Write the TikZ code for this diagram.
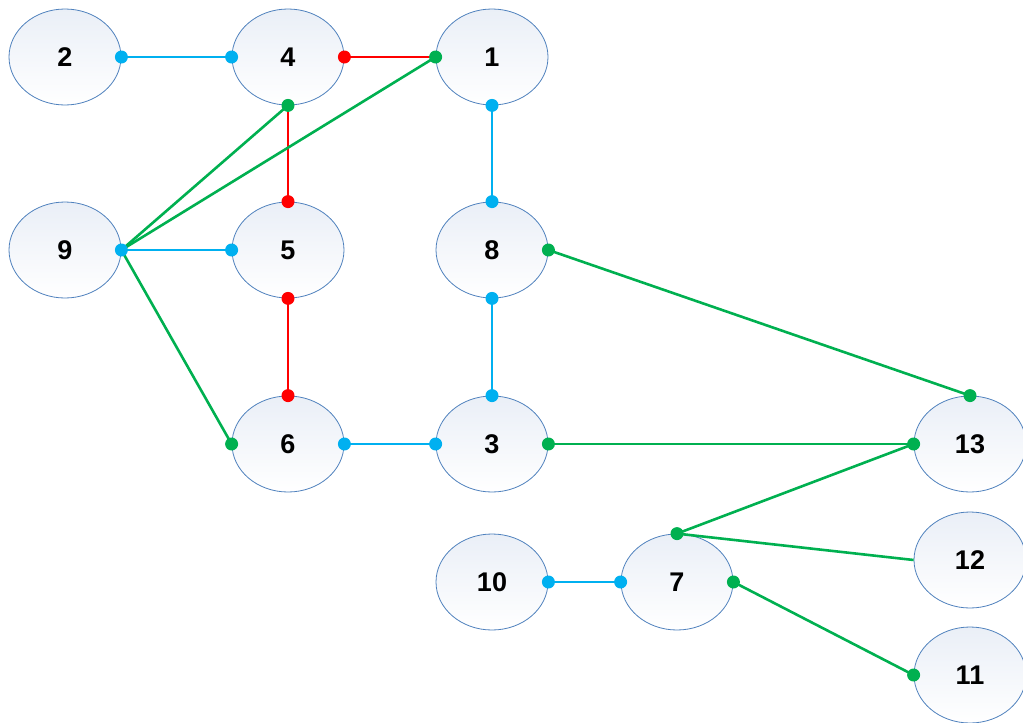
\documentclass[tikz,border=0pt]{standalone}
\usepackage{fontspec}
\setmainfont{Liberation Sans}
\usepackage{xcolor}
\usetikzlibrary{shapes.geometric}

\definecolor{cblue}{RGB}{0,176,240}
\definecolor{cred}{RGB}{255,0,0}
\definecolor{cgreen}{RGB}{0,176,80}
\definecolor{rim}{RGB}{79,129,189}
\definecolor{pale}{RGB}{234,239,247}

\tikzset{
    vertex/.style={ellipse, draw=rim, line width=0.8pt, top color=pale, bottom color=white,
        minimum width=112pt, minimum height=96pt, inner sep=0pt,
        font=\fontsize{27}{27}\selectfont\bfseries},
    link/.style={line width=2.6pt}
}

\begin{document}
\begin{tikzpicture}[x=1pt, y=1pt]
            \useasboundingbox (0,0) rectangle (1023,-723);

            \node[vertex] (n2) at (65, -57) {2};
            \node[vertex] (n4) at (288, -57) {4};
            \node[vertex] (n1) at (492, -57) {1};
            \node[vertex] (n9) at (65, -250) {9};
            \node[vertex] (n5) at (288, -250) {5};
            \node[vertex] (n8) at (492, -250) {8};
            \node[vertex] (n6) at (288, -444) {6};
            \node[vertex] (n3) at (492, -444) {3};
            \node[vertex] (n13) at (970, -444) {13};
            \node[vertex] (n10) at (492, -582) {10};
            \node[vertex] (n7) at (677, -582) {7};
            \node[vertex] (n12) at (970, -560) {12};
            \node[vertex] (n11) at (970, -675) {11};

            % red path 4-1, 4-5, 5-6
            \draw[link, cred] (n4.east) -- (n1.west); % 4-1
            \draw[link, cred] (n4.south) -- (n5.north); % 4-5
            \draw[link, cred] (n5.south) -- (n6.north); % 5-6
            \fill[cred] (n4.east) circle (6.5pt);
            \fill[cred] (n5.north) circle (6.5pt);
            \fill[cred] (n5.south) circle (6.5pt);
            \fill[cred] (n6.north) circle (6.5pt);

            % blue edges
            \draw[link, cblue] (n2.east) -- (n4.west); % 2-4
            \draw[link, cblue] (n1.south) -- (n8.north); % 1-8
            \draw[link, cblue] (n9.east) -- (n5.west); % 9-5
            \draw[link, cblue] (n8.south) -- (n3.north); % 8-3
            \draw[link, cblue] (n6.east) -- (n3.west); % 6-3
            \draw[link, cblue] (n10.east) -- (n7.west); % 10-7
            \fill[cblue] (n2.east) circle (6.5pt);
            \fill[cblue] (n4.west) circle (6.5pt);
            \fill[cblue] (n1.south) circle (6.5pt);
            \fill[cblue] (n8.north) circle (6.5pt);
            \fill[cblue] (n5.west) circle (6.5pt);
            \fill[cblue] (n8.south) circle (6.5pt);
            \fill[cblue] (n3.north) circle (6.5pt);
            \fill[cblue] (n6.east) circle (6.5pt);
            \fill[cblue] (n3.west) circle (6.5pt);
            \fill[cblue] (n10.east) circle (6.5pt);
            \fill[cblue] (n7.west) circle (6.5pt);

            % green edges
            \draw[link, cgreen] (n9.east) -- (n4.south); % 9-4
            \draw[link, cgreen] (n9.east) -- (n1.west); % 9-1
            \draw[link, cgreen] (n9.east) -- (n6.west); % 9-6
            \draw[link, cgreen] (n8.east) -- (n13.north); % 8-13
            \draw[link, cgreen] (n3.east) -- (n13.west); % 3-13
            \draw[link, cgreen] (n13.west) -- (n7.north); % 13-7
            \draw[link, cgreen] (n7.north) -- (n12.west); % 7-12
            \draw[link, cgreen] (n7.east) -- (n11.west); % 7-11
            \fill[cgreen] (n4.south) circle (6.5pt);
            \fill[cgreen] (n1.west) circle (6.5pt);
            \fill[cgreen] (n6.west) circle (6.5pt);
            \fill[cgreen] (n8.east) circle (6.5pt);
            \fill[cgreen] (n13.north) circle (6.5pt);
            \fill[cgreen] (n3.east) circle (6.5pt);
            \fill[cgreen] (n13.west) circle (6.5pt);
            \fill[cgreen] (n7.north) circle (6.5pt);
            \fill[cgreen] (n7.east) circle (6.5pt);
            \fill[cgreen] (n11.west) circle (6.5pt);

            \fill[cblue] (n9.east) circle (6.5pt);
        \end{tikzpicture}
\end{document}
